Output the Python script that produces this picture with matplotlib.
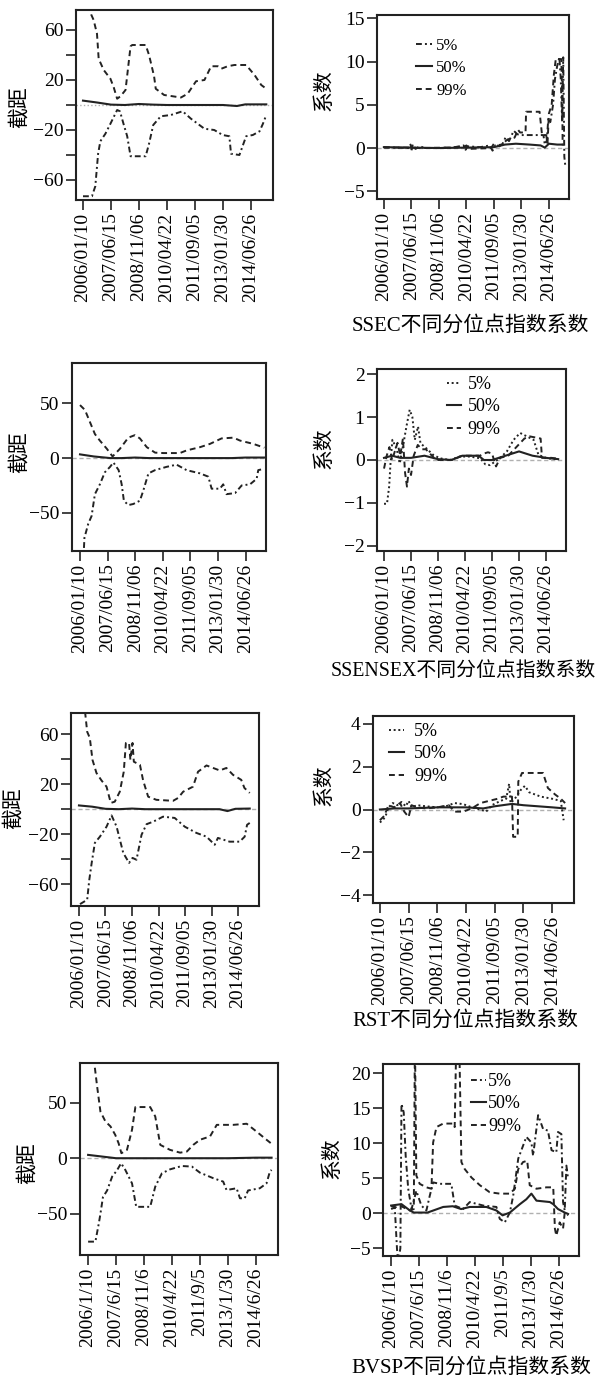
import matplotlib
matplotlib.use("Agg")
import matplotlib.pyplot as plt

W, H = 601, 1382
plt.rcParams["font.family"] = ["Liberation Serif", "Noto Sans CJK SC"]
plt.rcParams["axes.unicode_minus"] = True

INK = "#222222"
ZERO = "#b0b0b0"

# tick positions are in "tick units" (one step between two dated ticks)
TICK_POS = [0, 1, 2, 3, 4, 5, 6]
DATES_LONG = ["2006/01/10", "2007/06/15", "2008/11/06", "2010/04/22",
              "2011/09/05", "2013/01/30", "2014/06/26"]
DATES_SHORT = ["2006/1/10", "2007/6/15", "2008/11/6", "2010/4/22",
               "2011/9/5", "2013/1/30", "2014/6/26"]
QUANTILES = ["5%", "50%", "99%"]

# ---- SSEC ----
SSEC_INT_05 = [(0.0, -73), (0.32, -73), (0.44, -65), (0.54, -39), (0.62, -29), (0.8, -23),
               (0.98, -15), (1.22, -4), (1.32, -5), (1.46, -16), (1.58, -25), (1.7, -41),
               (2.24, -41), (2.36, -31), (2.51, -16), (2.78, -9), (3.14, -8), (3.56, -5),
               (3.86, -11), (4.1, -15), (4.34, -19), (4.69, -20), (4.99, -24), (5.23, -25),
               (5.29, -39), (5.59, -40), (5.83, -25), (6.07, -24), (6.31, -21), (6.43, -15),
               (6.55, -8)]
SSEC_INT_50 = [(0.0, 3.5), (0.5, 2.0), (1.0, 0.3), (1.5, 0.0), (2.0, 0.8), (2.5, 0.3),
               (3.0, 0.0), (4.0, 0.0), (5.0, 0.0), (5.5, -0.8), (5.8, 0.5), (6.55, 0.5)]
SSEC_INT_99 = [(0.2, 80), (0.3, 72), (0.38, 68), (0.5, 57), (0.56, 37), (0.74, 28),
               (0.98, 21), (1.1, 14), (1.22, 5), (1.34, 7), (1.52, 12), (1.7, 47),
               (1.76, 48), (2.24, 48), (2.36, 40), (2.54, 23), (2.6, 13), (2.9, 8),
               (3.2, 7), (3.5, 6), (3.74, 9), (4.04, 19), (4.34, 20), (4.58, 31),
               (4.82, 31), (4.94, 29), (5.17, 31), (5.41, 32), (5.83, 32), (6.13, 24),
               (6.37, 16), (6.55, 13)]

SSEC_COEF_05 = [(0.0, 0.1), (0.4, 0.05), (0.9, 0.0), (0.97, 0.4), (1.02, -0.3), (1.08, 0.3),
                (1.15, -0.1), (1.3, 0.2), (1.5, 0.0), (2.0, 0.0), (2.5, 0.05), (2.9, 0.3),
                (2.97, -0.2), (3.05, 0.2), (3.5, 0.1), (3.85, 0.3), (3.95, -0.3), (4.05, 0.3),
                (4.3, 0.4), (4.42, 1.2), (4.55, 0.8), (4.72, 2.0), (4.85, 1.6), (4.95, 1.5),
                (5.8, 1.5), (5.85, 0.4), (5.92, 0.8), (5.98, 3.5), (6.05, 3.0), (6.15, 5.0),
                (6.22, 8.0), (6.3, 9.5), (6.38, 10.5), (6.43, 8.0), (6.48, 3.0), (6.52, 10.5),
                (6.56, -1.0), (6.6, -2.2)]
SSEC_COEF_50 = [(0.0, 0.1), (1.0, 0.05), (2.0, 0.0), (3.0, 0.05), (4.0, 0.1), (4.4, 0.4),
                (4.8, 0.5), (5.3, 0.4), (5.7, 0.3), (5.85, 0.05), (6.0, 0.5), (6.3, 0.4),
                (6.5, 0.4)]
SSEC_COEF_99 = [(0.0, 0.05), (0.9, 0.05), (1.0, -0.3), (1.05, 0.4), (1.12, 0.0), (1.5, 0.0),
                (2.9, 0.1), (3.0, 0.3), (3.1, -0.1), (3.9, 0.0), (4.0, 0.5), (4.2, 0.2),
                (4.35, 0.6), (4.5, 1.0), (4.75, 1.2), (4.88, 2.1), (4.95, 1.8), (5.15, 1.8),
                (5.17, 4.2), (5.66, 4.2), (5.7, 3.0), (5.75, 1.5), (5.9, 1.5), (5.95, 0.6),
                (6.0, 4.0), (6.1, 5.0), (6.18, 8.5), (6.25, 10.3), (6.45, 10.3), (6.48, 6.5),
                (6.5, 0.3)]

# ---- SSENSEX ----
SENSEX_INT_05 = [(0.12, -95), (0.16, -73), (0.3, -60), (0.42, -53), (0.54, -33), (0.72, -24),
                 (0.9, -13), (1.09, -8), (1.21, -4), (1.4, -11), (1.51, -24), (1.59, -39),
                 (1.75, -43), (1.93, -42), (2.17, -39), (2.29, -30), (2.48, -14), (2.72, -11),
                 (3.14, -8), (3.5, -6), (3.86, -11), (4.35, -14), (4.65, -17), (4.77, -28),
                 (5.07, -28), (5.19, -24), (5.31, -33), (5.62, -32), (5.86, -25), (6.16, -24),
                 (6.4, -19), (6.46, -11), (6.64, -10)]
SENSEX_INT_50 = [(0.0, 3.4), (0.5, 1.5), (1.1, 0.0), (1.5, 0.0), (2.0, 0.5), (2.5, 0.0),
                 (4.0, 0.0), (5.5, 0.0), (6.0, 0.5), (6.68, 0.5)]
SENSEX_INT_99 = [(0.0, 48.5), (0.18, 44), (0.36, 33), (0.54, 22), (0.72, 16), (0.97, 8.6),
                 (1.18, 1.5), (1.45, 8.6), (1.75, 18.7), (1.99, 21), (2.17, 18), (2.42, 10),
                 (2.72, 5), (3.02, 4.6), (3.62, 4.6), (3.86, 7), (4.35, 10), (4.71, 13),
                 (5.13, 18), (5.56, 18.7), (5.8, 16), (6.28, 13), (6.68, 9.5)]

SENSEX_COEF_05 = [(0.0, -1.02), (0.11, -1.02), (0.19, -0.62), (0.24, -0.08), (0.31, 0.47),
                  (0.4, 0.35), (0.48, 0.23), (0.58, -0.08), (0.71, 0.35), (0.83, 0.78),
                  (0.95, 1.17), (1.05, 1.0), (1.14, 0.47), (1.26, 0.78), (1.35, 0.39),
                  (1.57, 0.27), (1.82, 0.12), (2.07, 0.04), (2.44, 0.0), (2.8, 0.08),
                  (3.18, 0.08), (3.56, 0.04), (3.75, -0.1), (3.93, -0.12), (4.1, -0.04),
                  (4.3, 0.05), (4.55, 0.2), (4.8, 0.47), (5.04, 0.63), (5.29, 0.55),
                  (5.54, 0.47), (5.72, 0.12), (6.03, 0.04), (6.41, 0.02)]
SENSEX_COEF_50 = [(0.0, 0.05), (0.3, 0.1), (0.6, 0.05), (1.0, 0.05), (1.5, 0.1), (2.0, 0.02),
                  (2.5, 0.0), (2.9, 0.1), (3.5, 0.1), (3.7, 0.0), (4.0, 0.0), (4.5, 0.1),
                  (5.0, 0.2), (5.5, 0.1), (6.0, 0.05), (6.45, 0.02)]
SENSEX_COEF_99 = [(0.0, -0.2), (0.1, 0.1), (0.2, 0.3), (0.3, 0.0), (0.4, 0.2), (0.5, 0.4),
                  (0.6, 0.1), (0.7, 0.5), (0.78, -0.3), (0.85, -0.62), (0.92, -0.2),
                  (1.0, -0.35), (1.1, 0.1), (1.25, 0.35), (1.4, 0.25), (1.55, 0.25),
                  (1.7, 0.15), (1.85, 0.05), (2.0, 0.0), (2.5, 0.0), (2.9, 0.1), (3.55, 0.1),
                  (3.7, 0.15), (3.85, 0.18), (4.0, 0.15), (4.15, -0.15), (4.3, 0.05),
                  (4.6, 0.1), (4.9, 0.3), (5.2, 0.5), (5.4, 0.55), (5.8, 0.5), (5.85, 0.05),
                  (6.2, 0.05), (6.45, 0.03)]

# ---- RST ----
RST_INT_05 = [(0.04, -76), (0.31, -72.5), (0.39, -56.5), (0.48, -43), (0.6, -27), (0.79, -22),
              (1.04, -14), (1.23, -5), (1.42, -14), (1.67, -35), (1.89, -43), (2.02, -39),
              (2.17, -40.5), (2.36, -20.5), (2.55, -12), (2.8, -10), (3.17, -6), (3.61, -7),
              (3.99, -14), (4.43, -19), (4.81, -22), (5.12, -28.5), (5.24, -23), (5.68, -26),
              (6.06, -26), (6.25, -22), (6.34, -12.5), (6.44, -11)]
RST_INT_50 = [(0.0, 3.0), (0.5, 2.0), (1.0, 0.3), (1.5, 0.0), (2.0, 0.5), (2.5, 0.0),
              (4.0, 0.0), (5.3, 0.0), (5.6, -1.5), (5.9, 0.3), (6.44, 0.5)]
RST_INT_99 = [(0.23, 78), (0.31, 62), (0.41, 57), (0.51, 39.5), (0.66, 29), (0.85, 23),
              (1.04, 18), (1.2, 5), (1.35, 6), (1.54, 14), (1.69, 30), (1.77, 53),
              (1.89, 53), (1.94, 39.5), (2.02, 53), (2.07, 38), (2.3, 35.5), (2.42, 23),
              (2.61, 10), (2.92, 7.5), (3.55, 6.7), (3.74, 9), (3.93, 14), (4.3, 18),
              (4.49, 30), (4.81, 35), (5.31, 31), (5.56, 33), (5.81, 27.5), (6.12, 23.5),
              (6.24, 17), (6.44, 13)]

RST_COEF_05 = [(0.0, -0.6), (0.1, -0.5), (0.2, -0.3), (0.3, 0.1), (0.45, 0.3), (0.6, 0.2),
               (0.75, 0.35), (0.9, 0.15), (1.0, 0.4), (1.1, 0.1), (1.3, 0.2), (1.6, 0.15),
               (2.0, 0.1), (2.3, 0.15), (2.6, 0.3), (2.9, 0.25), (3.2, 0.1), (3.5, 0.0),
               (3.7, -0.1), (3.9, 0.2), (4.2, 0.4), (4.4, 0.5), (4.5, 1.2), (4.55, 0.3),
               (4.7, 0.5), (4.9, 0.9), (5.05, 1.1), (5.2, 0.8), (5.6, 0.6), (6.0, 0.5),
               (6.3, 0.4), (6.4, -0.5)]
RST_COEF_50 = [(0.0, 0.0), (0.5, 0.05), (1.0, 0.05), (2.0, 0.1), (3.0, 0.1), (3.6, 0.05),
               (4.0, 0.15), (4.6, 0.26), (5.0, 0.2), (5.5, 0.15), (6.0, 0.1), (6.45, 0.05)]
RST_COEF_99 = [(0.0, -0.5), (0.15, -0.3), (0.3, 0.2), (0.5, 0.1), (0.7, 0.3), (0.85, -0.1),
               (1.0, -0.35), (1.1, 0.2), (1.3, 0.1), (1.6, 0.05), (2.0, 0.1), (2.4, 0.2),
               (2.6, -0.1), (2.9, -0.1), (3.2, 0.05), (3.5, 0.3), (3.8, 0.4), (4.1, 0.5),
               (4.3, 0.6), (4.6, 0.6), (4.64, -1.27), (4.8, -1.27), (4.82, 1.3), (4.95, 1.7),
               (5.68, 1.7), (5.85, 1.0), (6.1, 0.7), (6.3, 0.5), (6.45, 0.3)]

# ---- BVSP ----
BVSP_INT_05 = [(0.0, -75), (0.26, -75), (0.38, -59), (0.44, -50), (0.53, -35), (0.68, -29),
               (0.86, -16.5), (1.03, -11), (1.18, -4.5), (1.33, -10.5), (1.57, -22.6),
               (1.72, -43.7), (2.22, -43.7), (2.4, -25.6), (2.64, -13.5), (2.93, -10),
               (3.35, -7), (3.71, -7.5), (4.0, -13), (4.48, -18), (4.83, -21), (4.95, -28.6),
               (5.31, -27), (5.43, -36), (5.6, -36), (5.72, -29), (6.14, -27), (6.38, -22.6),
               (6.5, -12), (6.56, -10.5)]
BVSP_INT_50 = [(0.0, 3.0), (0.5, 1.5), (1.0, 0.0), (2.0, 0.0), (3.0, 0.0), (5.0, 0.0),
               (6.0, 0.5), (6.56, 0.5)]
BVSP_INT_99 = [(0.2, 90), (0.32, 65), (0.44, 42), (0.62, 33), (0.8, 28.6), (0.97, 21),
               (1.09, 13.5), (1.19, 4.5), (1.39, 7.5), (1.57, 25.6), (1.69, 46), (2.22, 46),
               (2.4, 37.6), (2.58, 12), (2.93, 7.5), (3.29, 5), (3.53, 6), (3.76, 12),
               (4.0, 16.6), (4.36, 19.6), (4.6, 30), (5.19, 30), (5.67, 31), (6.02, 24),
               (6.38, 16.6), (6.56, 13)]

BVSP_COEF_05 = [(0.0, 1.0), (0.13, 0.9), (0.21, -5.1), (0.25, -7.0), (0.33, -5.0), (0.37, 15.6),
                (0.45, 14.4), (0.52, 8.2), (0.61, 3.5), (0.73, 0.6), (0.9, 3.2), (1.08, 1.1),
                (1.26, 0.4), (1.38, 2.5), (1.5, 4.4), (1.74, 4.2), (2.15, 4.2), (2.27, 1.1),
                (2.57, 0.6), (2.81, 1.6), (3.29, 1.1), (3.76, 0.9), (3.88, -0.8), (4.06, -1.3),
                (4.24, 0.1), (4.36, 2.5), (4.54, 7.8), (4.83, 10.9), (5.01, 10.1), (5.07, 8.2),
                (5.25, 14.0), (5.43, 12.0), (5.6, 11.8), (5.73, 9.0), (5.9, 8.7), (5.96, 11.6),
                (6.08, 11.3), (6.14, 1.6), (6.2, 0.4), (6.26, 6.8), (6.32, 4.9)]
BVSP_COEF_50 = [(0.0, 1.1), (0.37, 1.3), (0.67, 0.4), (0.81, 0.1), (1.3, 0.1), (1.86, 0.9),
                (2.2, 1.0), (2.5, 0.6), (2.81, 0.9), (3.4, 0.9), (3.76, 0.4), (3.98, -0.3),
                (4.24, 0.1), (4.6, 1.3), (4.83, 2.0), (5.01, 2.8), (5.19, 1.8), (5.67, 1.6),
                (5.79, 1.3), (5.96, 0.6), (6.2, 0.1), (6.32, -0.1)]
BVSP_COEF_99 = [(0.0, 0.6), (0.31, 1.1), (0.67, 0.4), (0.81, 0.6), (0.85, 25), (0.9, 5.4),
                (1.02, 4.2), (1.26, 3.7), (1.44, 3.5), (1.5, 10.1), (1.62, 12.3), (1.86, 12.8),
                (2.21, 12.8), (2.27, 12.3), (2.33, 25), (2.43, 25), (2.51, 7.3), (2.63, 6.3),
                (2.87, 5.1), (3.17, 4.0), (3.52, 3.0), (3.88, 2.8), (4.24, 2.8), (4.42, 3.5),
                (4.54, 6.3), (4.71, 7.3), (4.86, 7.5), (4.95, 4.0), (5.19, 3.5), (5.55, 3.7),
                (5.79, 3.7), (5.85, -2.2), (5.9, -3.2), (6.02, -1.3), (6.14, -2.2), (6.2, 0.1),
                (6.32, -0.3)]


def frac_box(l, t, r, b):
    return [l / W, 1 - b / H, (r - l) / W, (b - t) / H]


DASHDOT = (0, (3, 1.6, 1, 1.6))
DOTTED = (0, (1, 1.4))
DASHED = (0, (3, 2))

PANELS = [
    dict(box=(76, 10, 273, 200), xlim=(-0.25, 6.79), ylim=(-76, 76),
         yticks=[-60, -40, -20, 0, 20, 40, 60], ylab=["\u221260", "", "\u221220", "", "20", "", "60"],
         series=(SSEC_INT_05, SSEC_INT_50, SSEC_INT_99), low=DASHDOT, zero=":",
         dates=DATES_LONG, ylabel="截距", ylabel_xy=(20, 107)),
    dict(box=(377, 15, 569, 199), xlim=(-0.25, 6.73), ylim=(-5.9, 15.4),
         yticks=[-5, 0, 5, 10, 15], ylab=["\u22125", "0", "5", "10", "15"],
         series=(SSEC_COEF_05, SSEC_COEF_50, SSEC_COEF_99), low=DASHDOT, zero=(0, (3, 2)),
         dates=DATES_LONG, ylabel="系数", ylabel_xy=(325, 90),
         legend=dict(anchor=(416, 38), size=12, hl=0.95, pad=0.25, sp=0.38),
         title="SSEC不同分位点指数系数", title_xy=(470, 326), tsize=15),
    dict(box=(72, 363, 266, 551), xlim=(-0.29, 6.74), ylim=(-85, 87),
         yticks=[-50, 0, 50], ylab=["\u221250", "0", "50"],
         series=(SENSEX_INT_05, SENSEX_INT_50, SENSEX_INT_99), low=DASHDOT, zero=(0, (3, 2)),
         dates=DATES_LONG, ylabel="截距", ylabel_xy=(20, 452)),
    dict(box=(377, 369, 566, 551), xlim=(-0.26, 6.74), ylim=(-2.12, 2.12),
         yticks=[-2, -1, 0, 1, 2], ylab=["\u22122", "\u22121", "0", "1", "2"],
         series=(SENSEX_COEF_05, SENSEX_COEF_50, SENSEX_COEF_99), low=DOTTED, zero=(0, (3, 2)),
         dates=DATES_LONG, ylabel="系数", ylabel_xy=(325, 448),
         legend=dict(anchor=(447, 376), size=13, hl=0.75, pad=0.4, sp=0.3),
         title="SSENSEX不同分位点指数系数", title_xy=(463, 671), tsize=14.3),
    dict(box=(71, 713, 259, 906), xlim=(-0.3, 6.79), ylim=(-77.5, 77),
         yticks=[-60, -40, -20, 0, 20, 40, 60], ylab=["\u221260", "", "\u221220", "", "20", "", "60"],
         series=(RST_INT_05, RST_INT_50, RST_INT_99), low=DASHDOT, zero=(0, (3, 2)),
         dates=DATES_LONG, ylabel="截距", ylabel_xy=(14, 808)),
    dict(box=(373, 716, 574, 903), xlim=(-0.24, 6.76), ylim=(-4.35, 4.35),
         yticks=[-4, -2, 0, 2, 4], ylab=["\u22124", "\u22122", "0", "2", "4"],
         series=(RST_COEF_05, RST_COEF_50, RST_COEF_99), low=DOTTED, zero=(0, (3, 2)),
         dates=DATES_LONG, ylabel="系数", ylabel_xy=(325, 785),
         legend=dict(anchor=(389, 723), size=13, hl=0.85, pad=0.55, sp=0.3),
         title="RST不同分位点指数系数", title_xy=(465, 1021), tsize=15),
    dict(box=(80, 1063, 278, 1255), xlim=(-0.29, 6.79), ylim=(-87, 85.6),
         yticks=[-50, 0, 50], ylab=["\u221250", "0", "50"],
         series=(BVSP_INT_05, BVSP_INT_50, BVSP_INT_99), low=DASHDOT, zero=(0, (3, 2)),
         dates=DATES_SHORT, ylabel="截距", ylabel_xy=(28, 1163)),
    dict(box=(383, 1064, 579, 1256), xlim=(-0.29, 6.71), ylim=(-6.1, 21.3),
         yticks=[-5, 0, 5, 10, 15, 20], ylab=["\u22125", "0", "5", "10", "15", "20"],
         series=(BVSP_COEF_05, BVSP_COEF_50, BVSP_COEF_99), low=DASHDOT, zero=(0, (3, 2)),
         dates=DATES_SHORT, ylabel="系数", ylabel_xy=(333, 1158),
         legend=dict(anchor=(471, 1073), size=13, hl=0.85, pad=0.1, sp=0.3),
         title="BVSP不同分位点指数系数", title_xy=(471, 1368), tsize=15),
]

fig = plt.figure(figsize=(W / 100, H / 100), dpi=100)

for p in PANELS:
    ax = fig.add_axes(frac_box(*p["box"]))
    ax.axhline(0, color=ZERO, lw=1.0, ls=p["zero"], zorder=1)
    styles = [dict(ls=p["low"], lw=1.4), dict(ls="-", lw=1.5), dict(ls=DASHED, lw=1.4)]
    for pts, st, lab in zip(p["series"], styles, QUANTILES):
        xs = [q[0] for q in pts]
        ys = [q[1] for q in pts]
        ax.plot(xs, ys, color=INK, label=lab, zorder=3, **st)
    ax.set_xlim(*p["xlim"])
    ax.set_ylim(*p["ylim"])
    ax.set_xticks(TICK_POS)
    ax.set_xticklabels(p["dates"], rotation=90, fontsize=14)
    ax.set_yticks(p["yticks"])
    ax.set_yticklabels(p["ylab"], fontsize=14)
    ax.tick_params(axis="both", direction="out", length=7, width=1.2, color=INK, pad=2)
    for s in ax.spines.values():
        s.set_linewidth(1.5)
        s.set_color(INK)

    fig.text(p["ylabel_xy"][0] / W, 1 - p["ylabel_xy"][1] / H, p["ylabel"],
             rotation=90, ha="center", va="center", fontsize=15)

    if "legend" in p:
        lg = p["legend"]
        ax.legend(loc="upper left",
                  bbox_to_anchor=(lg["anchor"][0] / W, 1 - lg["anchor"][1] / H),
                  bbox_transform=fig.transFigure, frameon=False,
                  fontsize=lg["size"], handlelength=lg["hl"], handletextpad=lg["pad"],
                  labelspacing=lg["sp"], borderpad=0, borderaxespad=0)
    if "title" in p:
        fig.text(p["title_xy"][0] / W, 1 - p["title_xy"][1] / H, p["title"],
                 ha="center", va="center", fontsize=p["tsize"])

fig.savefig("out.png", dpi=100)
